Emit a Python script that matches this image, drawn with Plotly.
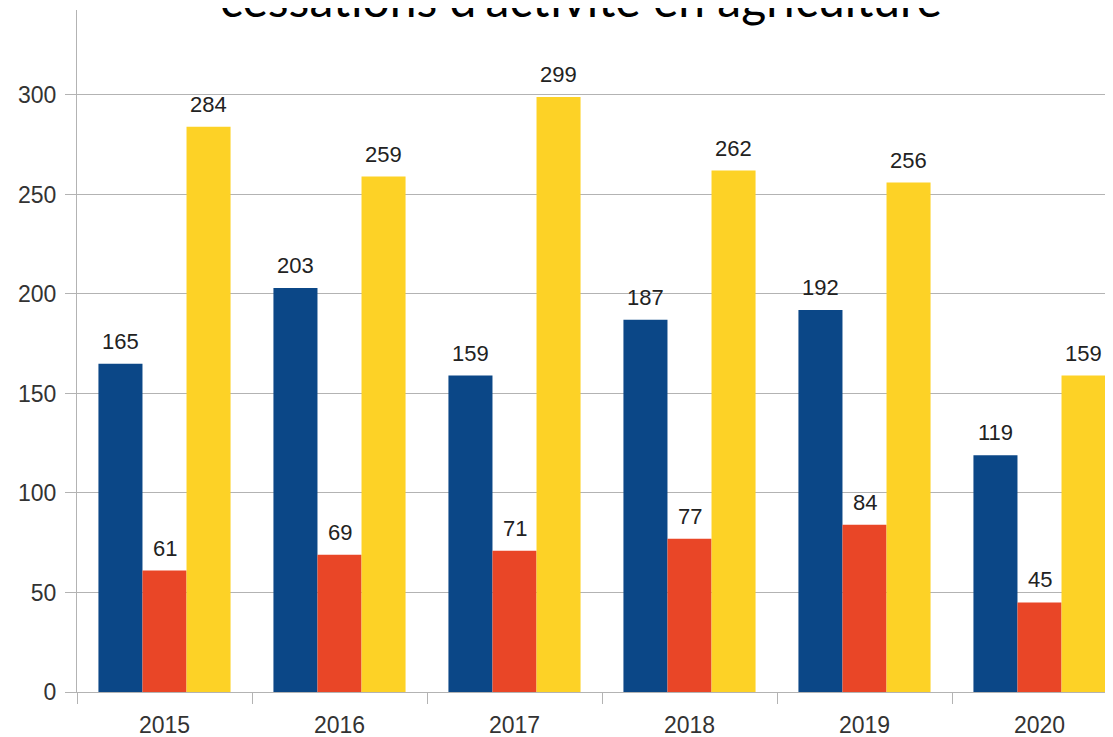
import plotly.graph_objects as go

years = ["2015", "2016", "2017", "2018", "2019", "2020"]
serie_bleue = [165, 203, 159, 187, 192, 119]
serie_rouge = [61, 69, 71, 77, 84, 45]
serie_jaune = [284, 259, 299, 262, 256, 159]
y_ticks = [0, 50, 100, 150, 200, 250, 300]
titre = "cessations d'activité en agriculture"

couleurs = ["#0b4787", "#e94627", "#fdd226"]
series = [serie_bleue, serie_rouge, serie_jaune]
noms = ["Série 1", "Série 2", "Série 3"]

bargap = 0.245
n = len(series)
w = (1 - bargap) / n

fig = go.Figure()
for s, c, nm in zip(series, couleurs, noms):
    fig.add_trace(go.Bar(x=years, y=s, name=nm, marker=dict(color=c, line=dict(width=0)),
                         showlegend=False))

annotations = []
for k, s in enumerate(series):
    off = (k - (n - 1) / 2) * w
    for i, v in enumerate(s):
        annotations.append(dict(x=i + off, y=v, xref="x", yref="y", text=str(v),
                                showarrow=False, yanchor="bottom", yshift=8,
                                font=dict(family="Liberation Sans", size=22, color="#222222")))

annotations.append(dict(x=0.4865, y=0.972, xref="paper", yref="paper", text=titre,
                        showarrow=False, xanchor="center", yanchor="bottom",
                        font=dict(family="Lato", size=48, color="#000000")))

fig.update_layout(
    width=1113, height=737, autosize=False,
    margin=dict(l=69, r=8, t=2, b=53),
    paper_bgcolor="white", plot_bgcolor="white",
    barmode="group", bargap=bargap, bargroupgap=0,
    annotations=annotations,
    xaxis=dict(type="category", range=[-0.5, 5.42], tickson="boundaries",
               ticks="outside", ticklen=11, tickcolor="#b3b3b3", tickwidth=1,
               showline=True, linecolor="#b3b3b3", linewidth=1, showgrid=False,
               tickfont=dict(family="Liberation Sans", size=23, color="#333333"),
               ticklabelstandoff=12),
    yaxis=dict(range=[0, 342.7], tickmode="array", tickvals=y_ticks,
               ticks="outside", ticklen=11, tickcolor="#b3b3b3", tickwidth=1,
               showline=True, linecolor="#b3b3b3", linewidth=1,
               showgrid=True, gridcolor="#b3b3b3", gridwidth=1, zeroline=False,
               tickfont=dict(family="Liberation Sans", size=23, color="#333333"),
               ticklabelstandoff=4),
)

fig.write_html("out.html")
